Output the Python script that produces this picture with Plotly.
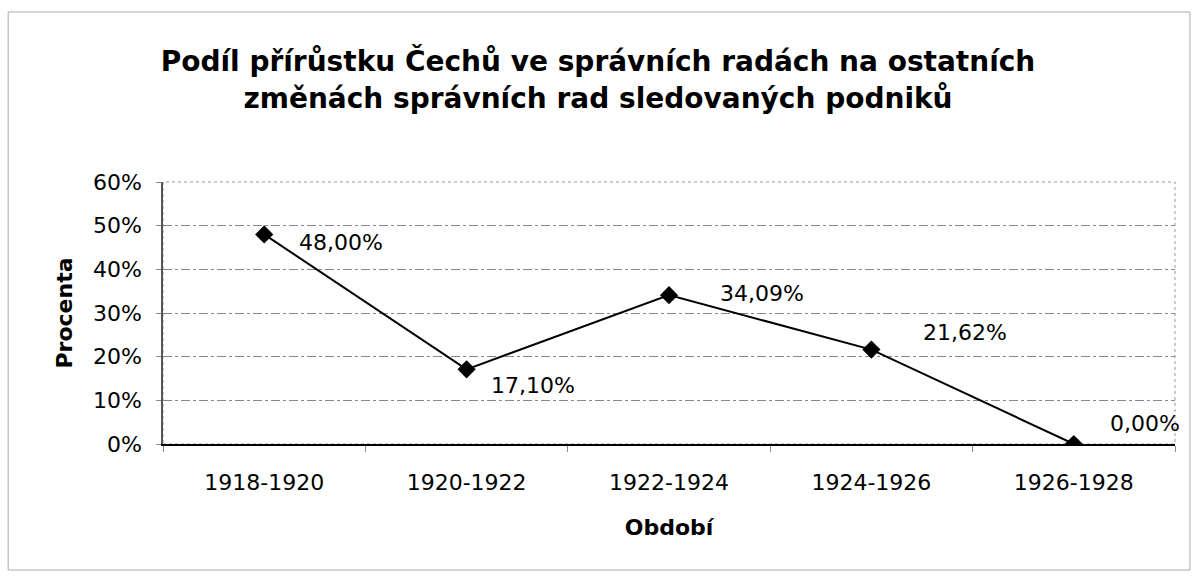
import plotly.graph_objects as go

periods = ["1918-1920", "1920-1922", "1922-1924", "1924-1926", "1926-1928"]
values = [48.00, 17.10, 34.09, 21.62, 0.00]
y_ticks = [0, 10, 20, 30, 40, 50, 60]

# label offsets (pixels) for each data label
label_dx = [33, 22, 49, 50, 34]
label_dy = [-8, -16, 2, 17, 21]

FONT = "DejaVu Sans, Arial"

fig = go.Figure()
fig.add_trace(go.Scatter(
    x=periods, y=values, mode="lines+markers",
    line=dict(color="black", width=2),
    marker=dict(symbol="diamond", size=14, color="black"),
    hoverinfo="skip", showlegend=False,
))

for p, v, dx, dy in zip(periods, values, label_dx, label_dy):
    fig.add_annotation(
        x=p, y=v, text=f"{v:.2f}%".replace(".", ","),
        showarrow=False, xanchor="left", yanchor="middle",
        xshift=dx, yshift=dy,
        font=dict(family=FONT, size=22, color="black"),
    )

fig.update_layout(
    width=1196, height=576,
    margin=dict(l=163, r=21, t=182, b=132),
    paper_bgcolor="white", plot_bgcolor="white",
    title=dict(
        text="Podíl přírůstku Čechů ve správních radách na ostatních<br>změnách správních rad sledovaných podniků",
        x=0.5, xanchor="center", y=0.876, yanchor="middle",
        font=dict(family=FONT, size=28, color="black", weight="bold"),
    ),
    font=dict(family=FONT, color="black"),
    shapes=[dict(type="rect", xref="paper", yref="paper", x0=-0.153, x1=1.0148,
                 y0=-0.481, y1=1.649, line=dict(color="#aaaaaa", width=1))],
)

fig.update_xaxes(
    type="category", tickfont=dict(size=22), ticks="outside", ticklen=6,
    tickson="boundaries", tickcolor="#888888", ticklabelstandoff=18,
    showline=True, linecolor="black", linewidth=1.5, mirror=False,
    showgrid=False, range=[-0.5, 4.5], automargin=False,
    title=dict(text="<b>Období</b>", font=dict(size=22), standoff=25),
)
fig.update_yaxes(
    range=[0, 60], tickvals=y_ticks, ticktext=[f"{t}%" for t in y_ticks],
    tickfont=dict(size=22), ticks="outside", ticklen=5, tickcolor="#888888",
    ticklabelstandoff=10,
    showline=True, linecolor="#555555", linewidth=1.5,
    showgrid=True, gridcolor="#888888", gridwidth=1, griddash="dashdot",
    zeroline=False, automargin=False,
    title=dict(text="<b>Procenta</b>", font=dict(size=22), standoff=14),
)
# dotted plot-area border
fig.add_shape(type="rect", xref="paper", yref="paper", x0=0, x1=1, y0=0, y1=1,
              line=dict(color="#999999", width=1, dash="dot"), layer="below")

fig.write_html("out.html", config={"displayModeBar": False},
               post_script="document.body.style.margin='0';document.body.style.padding='0';")
